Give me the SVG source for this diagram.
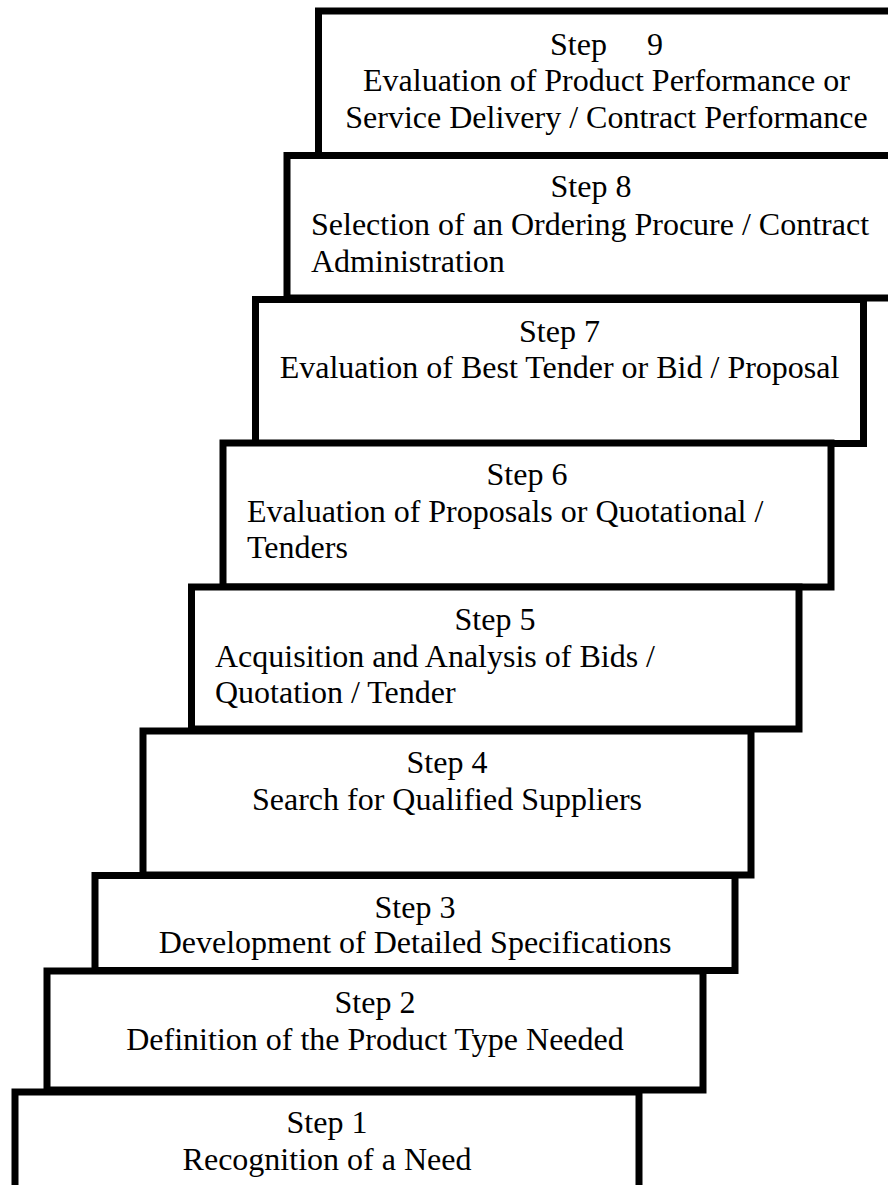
<svg xmlns="http://www.w3.org/2000/svg" width="888" height="1185" viewBox="0 0 888 1185">
<style>
.box{fill:#fff;stroke:#000;stroke-width:7}
.t{font-family:"Liberation Serif","Times New Roman",serif;font-size:32px;fill:#000}
.c{text-anchor:middle}
</style>
<rect x="0" y="0" width="888" height="1185" fill="#fff"/>
<g id="step9"><rect class="box" x="318.5" y="11" width="577" height="144.5"/>
<text class="t c" x="606.5" y="55" xml:space="preserve">Step     9</text>
<text class="t c" x="606.5" y="91">Evaluation of Product Performance or</text>
<text class="t c" x="606.5" y="128">Service Delivery / Contract Performance</text></g>
<g id="step8"><rect class="box" x="287" y="155.5" width="608" height="142.5"/>
<text class="t c" x="591" y="197">Step 8</text>
<text class="t" x="311" y="235">Selection of an Ordering Procure / Contract</text>
<text class="t" x="311" y="272">Administration</text></g>
<g id="step7"><rect class="box" x="255.5" y="299.5" width="608" height="144"/>
<text class="t c" x="559.5" y="342">Step 7</text>
<text class="t c" x="559.5" y="378">Evaluation of Best Tender or Bid / Proposal</text></g>
<g id="step6"><rect class="box" x="223" y="443" width="608" height="144"/>
<text class="t c" x="527" y="485">Step 6</text>
<text class="t" x="247" y="522">Evaluation of Proposals or Quotational /</text>
<text class="t" x="247" y="558">Tenders</text></g>
<g id="step5"><rect class="box" x="191.5" y="587" width="607.5" height="142"/>
<text class="t c" x="495" y="630">Step 5</text>
<text class="t" x="215" y="667">Acquisition and Analysis of Bids /</text>
<text class="t" x="215" y="703">Quotation / Tender</text></g>
<g id="step4"><rect class="box" x="143" y="731" width="608" height="144"/>
<text class="t c" x="447" y="773">Step 4</text>
<text class="t c" x="447" y="810">Search for Qualified Suppliers</text></g>
<g id="step3"><rect class="box" x="95" y="875.5" width="640" height="95"/>
<text class="t c" x="415" y="918">Step 3</text>
<text class="t c" x="415" y="953">Development of Detailed Specifications</text></g>
<g id="step2"><rect class="box" x="47" y="971" width="656" height="119"/>
<text class="t c" x="375" y="1013">Step 2</text>
<text class="t c" x="375" y="1050">Definition of the Product Type Needed</text></g>
<g id="step1"><rect class="box" x="15" y="1092" width="624" height="110"/>
<text class="t c" x="327" y="1133">Step 1</text>
<text class="t c" x="327" y="1170">Recognition of a Need</text></g>
</svg>
